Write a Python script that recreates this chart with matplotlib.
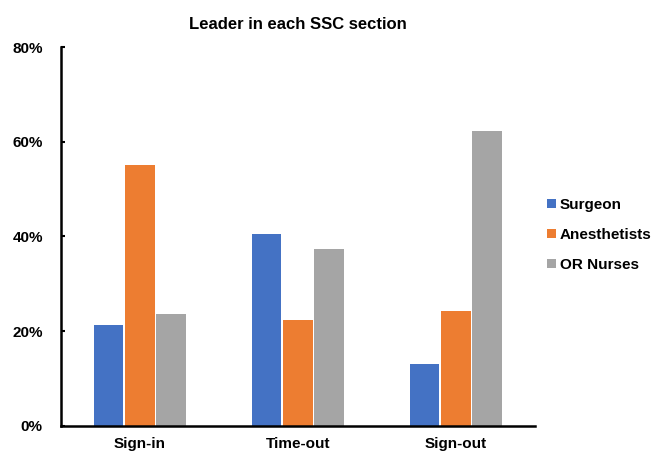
import numpy as np
import matplotlib.pyplot as plt

# data (fractions)
sections = ['Sign-in', 'Time-out', 'Sign-out']
surgeon = [0.213, 0.404, 0.130]
anesthetists = [0.551, 0.223, 0.242]
or_nurses = [0.235, 0.373, 0.623]
series_names = ['Surgeon', 'Anesthetists', 'OR Nurses']
y_ticks = [0.0, 0.2, 0.4, 0.6, 0.8]
y_tick_labels = ['0%', '20%', '40%', '60%', '80%']

colors = ['#4472C4', '#ED7D31', '#A5A5A5']

plt.rcParams['font.family'] = ['Liberation Sans', 'DejaVu Sans']
plt.rcParams['font.weight'] = 'bold'

fig = plt.figure(figsize=(6.62, 4.61), dpi=100)
ax = fig.add_axes([0.092, 0.0766, 0.716, 0.8214])

x = np.arange(len(sections))
width = 0.185
offset = 0.197
for i, (vals, name) in enumerate(zip([surgeon, anesthetists, or_nurses], series_names)):
    ax.bar(x + (i - 1) * offset, vals, width=width, color=colors[i], label=name, zorder=2)

ax.set_xlim(-0.5, 2.5)
ax.set_ylim(0, 0.8)
ax.set_yticks(y_ticks)
ax.set_yticklabels(y_tick_labels, fontsize=11, fontweight='bold')
ax.set_xticks(x)
ax.set_xticklabels(sections, fontsize=11, fontweight='bold')

ax.spines['top'].set_visible(False)
ax.spines['right'].set_visible(False)
ax.spines['left'].set_linewidth(1.8)
ax.spines['bottom'].set_linewidth(1.8)
ax.tick_params(axis='y', direction='in', length=3, width=1.5, pad=13)
ax.tick_params(axis='x', length=0, pad=8)

ax.set_title('Leader in each SSC section', fontsize=12, fontweight='bold', pad=13)

ax.legend(loc='center left', bbox_to_anchor=(1.0, 0.503), frameon=False,
          prop={'size': 11, 'weight': 'bold'}, handlelength=0.55, handleheight=0.55,
          handletextpad=0.3, labelspacing=1.05, borderaxespad=0.4)

plt.savefig('out.png', dpi=100)
plt.close()
